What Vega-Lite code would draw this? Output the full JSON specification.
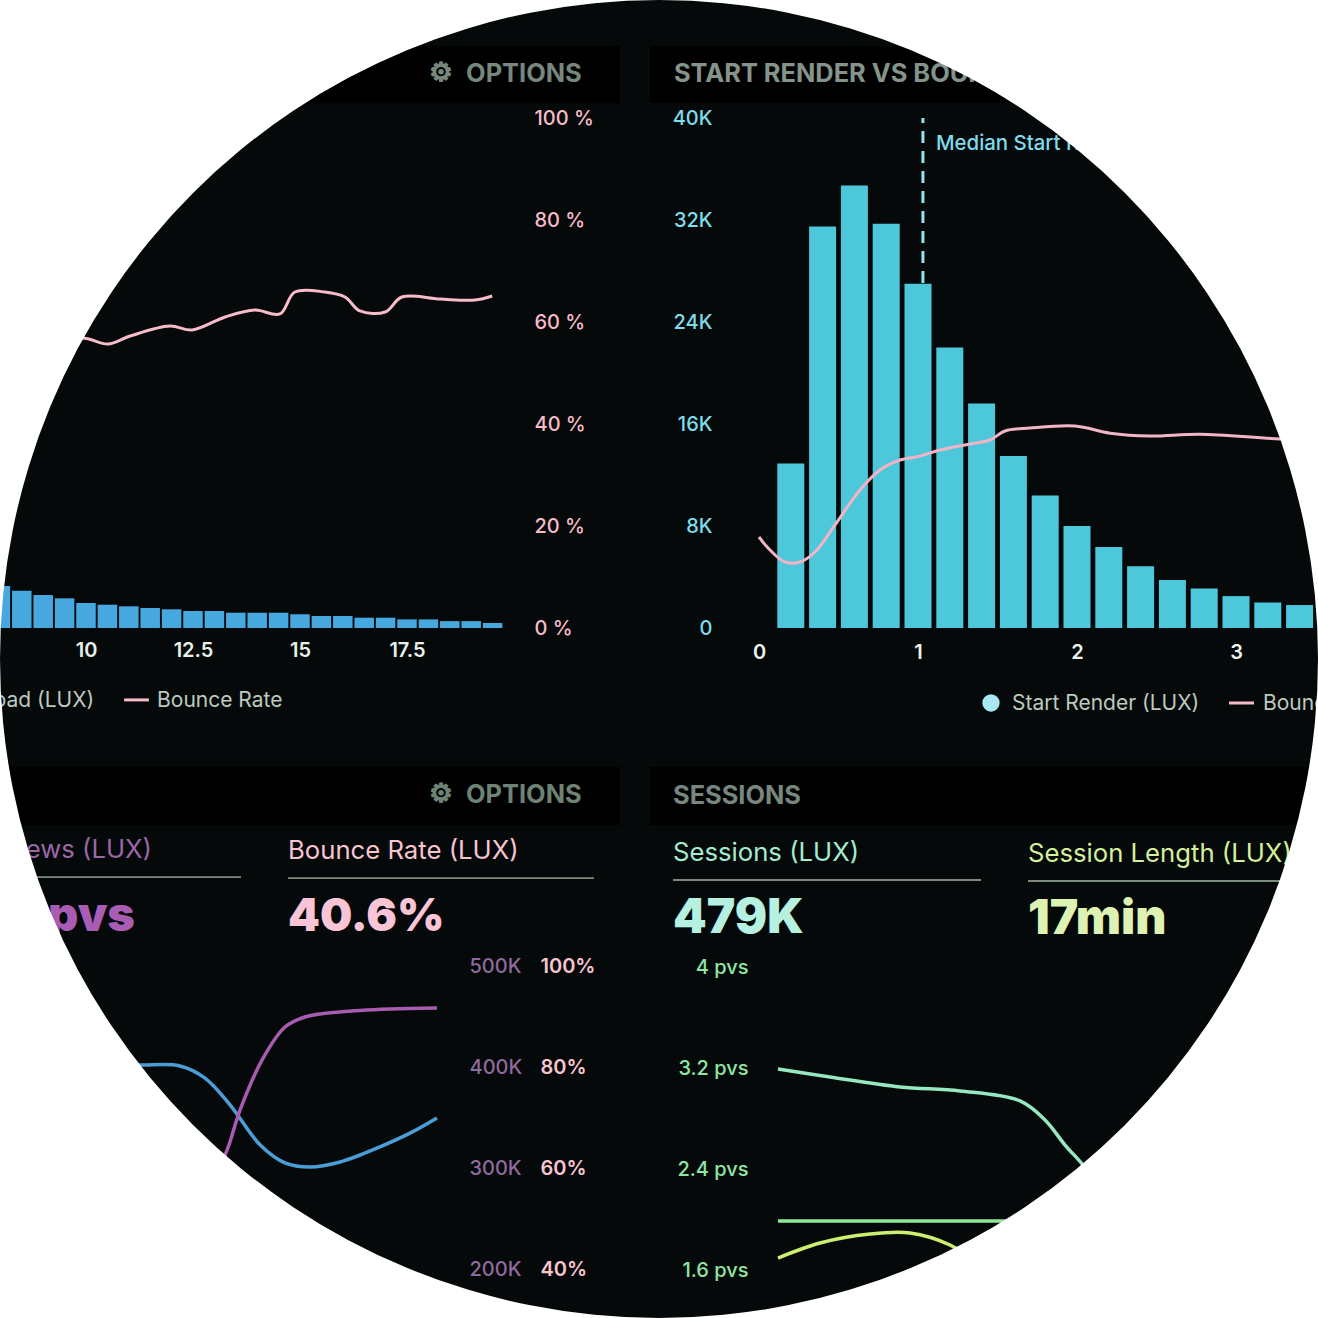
{"$schema":"https://vega.github.io/schema/vega-lite/v6.json","width":1318,"height":1318,"padding":0,"autosize":"none","background":"white","view":{"fill":"#05090a","stroke":null},
"config":{"axis":{"grid":false,"domain":false,"ticks":false,"tickSize":0,"labelPadding":0,"labelFont":"Inter","labelFontSize":20,"labelFontWeight":500,"labelOverlap":false,"labelBound":false,"labelFlush":false},"text":{"font":"Inter","align":"left","baseline":"middle"}},
"resolve":{"scale":{"x":"independent","y":"independent"},"axis":{"x":"independent","y":"independent"}},
"datasets":{
"tl":[
{"kind":"header","x":7.99,"x2":22.48,"y":114.1,"y2":102.9},
{"kind":"gear","x":18.29,"y":108.8,"label":"⚙"},
{"kind":"head","x":18.88,"y":108.8,"label":"OPTIONS"},
{"kind":"legendR","x":10.19,"y":-14.1,"label":"Page Load (LUX)"},
{"kind":"dash","x":10.89,"x2":11.47,"y":-14.1},
{"kind":"legend","x":11.66,"y":-14.1,"label":"Bounce Rate"},
{"kind":"bar","x":8,"y":8.24},{"kind":"bar","x":8.5,"y":7.31},{"kind":"bar","x":9,"y":6.47},{"kind":"bar","x":9.5,"y":5.82},{"kind":"bar","x":10,"y":4.9},{"kind":"bar","x":10.5,"y":4.57},{"kind":"bar","x":11,"y":4.25},{"kind":"bar","x":11.5,"y":3.92},{"kind":"bar","x":12,"y":3.67},{"kind":"bar","x":12.5,"y":3.33},{"kind":"bar","x":13,"y":3.33},{"kind":"bar","x":13.5,"y":3.0},{"kind":"bar","x":14,"y":3.0},{"kind":"bar","x":14.5,"y":3.0},{"kind":"bar","x":15,"y":2.69},{"kind":"bar","x":15.5,"y":2.35},{"kind":"bar","x":16,"y":2.35},{"kind":"bar","x":16.5,"y":2.02},{"kind":"bar","x":17,"y":2.02},{"kind":"bar","x":17.5,"y":1.69},{"kind":"bar","x":18,"y":1.69},{"kind":"bar","x":18.5,"y":1.35},{"kind":"bar","x":19,"y":1.35},{"kind":"bar","x":19.5,"y":0.98},
{"kind":"line","x":8.93,"y":52.5},{"kind":"line","x":9.86,"y":56.86},{"kind":"line","x":10.51,"y":55.69},{"kind":"line","x":11.03,"y":57.25},{"kind":"line","x":11.96,"y":59.2},{"kind":"line","x":12.48,"y":58.43},{"kind":"line","x":13.25,"y":60.98},{"kind":"line","x":13.95,"y":62.35},{"kind":"line","x":14.53,"y":61.57},{"kind":"line","x":14.88,"y":65.88},{"kind":"line","x":15.58,"y":65.88},{"kind":"line","x":16.05,"y":64.9},{"kind":"line","x":16.4,"y":62.16},{"kind":"line","x":16.99,"y":61.96},{"kind":"line","x":17.38,"y":64.9},{"kind":"line","x":18.27,"y":64.5},{"kind":"line","x":19.09,"y":64.3},{"kind":"line","x":19.49,"y":65.1}
],
"tr":[
{"kind":"header","x":-0.686,"x2":3.516,"y":45647,"y2":41176},
{"kind":"head","x":-0.535,"y":43529,"label":"START RENDER VS BOUNCE RATE"},
{"kind":"bar","x":0.2,"y":12900},{"kind":"bar","x":0.4,"y":31500},{"kind":"bar","x":0.6,"y":34700},{"kind":"bar","x":0.8,"y":31700},{"kind":"bar","x":1.0,"y":27000},{"kind":"bar","x":1.2,"y":22000},{"kind":"bar","x":1.4,"y":17600},{"kind":"bar","x":1.6,"y":13500},{"kind":"bar","x":1.8,"y":10400},{"kind":"bar","x":2.0,"y":8000},{"kind":"bar","x":2.2,"y":6350},{"kind":"bar","x":2.4,"y":4850},{"kind":"bar","x":2.6,"y":3760},{"kind":"bar","x":2.8,"y":3100},{"kind":"bar","x":3.0,"y":2500},{"kind":"bar","x":3.2,"y":2000},{"kind":"bar","x":3.4,"y":1800},
{"kind":"median","x":1.031,"y":27059,"y2":40000},
{"kind":"medianText","x":1.113,"y":38039,"label":"Median Start Render"},
{"kind":"dot","x":1.459,"y":-5882},
{"kind":"legend","x":1.591,"y":-5882,"label":"Start Render (LUX)"},
{"kind":"dash","x":2.956,"x2":3.113,"y":-5882},
{"kind":"legend","x":3.17,"y":-5882,"label":"Bounce Rate"}
],
"trb":[
{"x":0,"y":17.84},{"x":0.069,"y":15.3},{"x":0.164,"y":12.94},{"x":0.258,"y":12.94},{"x":0.352,"y":14.9},{"x":0.478,"y":20.2},{"x":0.635,"y":27.06},{"x":0.761,"y":30.98},{"x":0.887,"y":32.94},{"x":1.013,"y":33.7},{"x":1.138,"y":34.9},{"x":1.327,"y":36.08},{"x":1.453,"y":36.86},{"x":1.547,"y":38.63},{"x":1.704,"y":39.2},{"x":1.987,"y":39.6},{"x":2.208,"y":38.2},{"x":2.459,"y":37.65},{"x":2.774,"y":38.0},{"x":3.277,"y":37.06},{"x":3.465,"y":37.06}
],
"bl":[
{"kind":"header","x":0,"x2":62,"y":139.4,"y2":127.9},
{"kind":"gear","x":44.1,"y":134.06,"label":"⚙"},
{"kind":"head","x":46.6,"y":134.06,"label":"OPTIONS"},
{"kind":"viewsLabel","x":15.2,"y":123.4,"label":"Page Views (LUX)"},
{"kind":"under","x":0,"x2":24.1,"y":117.6},
{"kind":"viewsKpi","x":13.5,"y":110.3,"label":"1.9pvs"},
{"kind":"bounceLabel","x":28.8,"y":123.17,"label":"Bounce Rate (LUX)"},
{"kind":"under","x":28.8,"x2":59.4,"y":117.4},
{"kind":"bounceKpi","x":28.8,"y":110.3,"label":"40.6%"},
{"kind":"line","x":10,"y":80.5},{"kind":"line","x":14,"y":80.4},{"kind":"line","x":18,"y":80.2},{"kind":"line","x":20.5,"y":77.8},{"kind":"line","x":23,"y":72.5},{"kind":"line","x":26,"y":64.6},{"kind":"line","x":28.5,"y":61},{"kind":"line","x":31,"y":60.2},{"kind":"line","x":34,"y":61.2},{"kind":"line","x":38,"y":64.2},{"kind":"line","x":41,"y":66.9},{"kind":"line","x":43.7,"y":69.9}
],
"blv":[
{"x":20,"y":273.3},{"x":22.5,"y":312.9},{"x":24,"y":357.4},{"x":26.2,"y":406.9},{"x":28.5,"y":439.6},{"x":30.5,"y":449.5},{"x":34,"y":454.5},{"x":39,"y":457.4},{"x":43.7,"y":458.4}
],
"br":[
{"kind":"header","x":-12.8,"x2":54,"y":5.584,"y2":5.125},
{"kind":"head","x":-10.5,"y":5.362,"label":"SESSIONS"},
{"kind":"sessLabel","x":-10.5,"y":4.919,"label":"Sessions (LUX)"},
{"kind":"under","x":-10.5,"x2":20.3,"y":4.689},
{"kind":"sessKpi","x":-10.5,"y":4.404,"label":"479K"},
{"kind":"lenLabel","x":25,"y":4.911,"label":"Session Length (LUX)"},
{"kind":"under","x":25,"x2":54,"y":4.681},
{"kind":"lenKpi","x":25,"y":4.396,"label":"17min"},
{"kind":"mint","x":0,"y":3.192},{"kind":"mint","x":5.2,"y":3.129},{"kind":"mint","x":12.2,"y":3.05},{"kind":"mint","x":18.2,"y":3.018},{"kind":"mint","x":24.2,"y":2.939},{"kind":"mint","x":26.7,"y":2.788},{"kind":"mint","x":28.7,"y":2.59},{"kind":"mint","x":30.5,"y":2.432},{"kind":"mint","x":33.2,"y":2.154},
{"kind":"green","x":0,"y":1.988},{"kind":"green","x":13,"y":1.988},{"kind":"green","x":26.2,"y":1.988},
{"kind":"lime","x":0,"y":1.695},{"kind":"lime","x":4.2,"y":1.814},{"kind":"lime","x":9.2,"y":1.885},{"kind":"lime","x":13.2,"y":1.893},{"kind":"lime","x":17.2,"y":1.798},{"kind":"lime","x":20.2,"y":1.64}
]},
"layer":[
{"data":{"name":"tl"},
"encoding":{"x":{"field":"x","type":"quantitative","scale":{"domain":[8,20],"range":[0.4,514],"nice":false,"zero":false,"padding":0},"axis":{"title":null,"orient":"bottom","offset":-690,"labelPadding":12,"values":[10,12.5,15,17.5],"labelExpr":"'' + datum.value","labelColor":"#e8f0e8","labelFontWeight":600}},
"y":{"field":"y","type":"quantitative","scale":{"domain":[0,100],"range":[628,118],"nice":false},"axis":{"title":null,"orient":"right","offset":-784,"values":[0,20,40,60,80,100],"labelExpr":"datum.value + ' %'","labelColor":"#f7bcc8"}}},
"layer":[
{"transform":[{"filter":"datum.kind==='header'"}],"mark":{"type":"rect","color":"#000000"},"encoding":{"x2":{"field":"x2"},"y2":{"field":"y2"}}},
{"transform":[{"filter":"datum.kind==='gear'"}],"mark":{"type":"text","font":"DejaVu Sans","fontSize":26,"align":"center","color":"#77877d","stroke":"#77877d","strokeWidth":1.6},"encoding":{"text":{"field":"label"}}},
{"transform":[{"filter":"datum.kind==='head'"}],"mark":{"type":"text","fontSize":25.4,"fontWeight":700,"dy":1,"color":"#77877d"},"encoding":{"text":{"field":"label"}}},
{"transform":[{"filter":"datum.kind==='legendR'"}],"mark":{"type":"text","fontSize":21,"dy":1,"align":"right","color":"#bccabf"},"encoding":{"text":{"field":"label"}}},
{"transform":[{"filter":"datum.kind==='legend'"}],"mark":{"type":"text","fontSize":21,"dy":1,"color":"#bccabf"},"encoding":{"text":{"field":"label"}}},
{"transform":[{"filter":"datum.kind==='dash'"}],"mark":{"type":"rule","color":"#f7bcc8","strokeWidth":3},"encoding":{"x2":{"field":"x2"}}},
{"transform":[{"filter":"datum.kind==='bar'"}],"mark":{"type":"bar","orient":"vertical","size":19.5,"color":"#47a8e0"}},
{"transform":[{"filter":"datum.kind==='line'"}],"mark":{"type":"line","interpolate":"catmull-rom","color":"#f7bcc8","strokeWidth":3}}
]},
{"data":{"name":"tr"},
"encoding":{"x":{"field":"x","type":"quantitative","scale":{"domain":[0,3.5],"range":[759,1315.5],"nice":false,"zero":false,"padding":0},"axis":{"title":null,"orient":"bottom","offset":-690,"labelPadding":14,"values":[0,1,2,3],"format":"d","labelColor":"#eef4f0","labelFontWeight":600}},
"y":{"field":"y","type":"quantitative","scale":{"domain":[0,40000],"range":[628,118],"nice":false},"axis":{"title":null,"orient":"left","offset":-712,"values":[0,8000,16000,24000,32000,40000],"labelExpr":"datum.value === 0 ? '0' : (datum.value/1000) + 'K'","labelColor":"#7fdcec"}}},
"layer":[
{"transform":[{"filter":"datum.kind==='header'"}],"mark":{"type":"rect","color":"#000000"},"encoding":{"x2":{"field":"x2"},"y2":{"field":"y2"}}},
{"transform":[{"filter":"datum.kind==='head'"}],"mark":{"type":"text","fontSize":25.4,"fontWeight":700,"dy":1,"color":"#84948b"},"encoding":{"text":{"field":"label"}}},
{"transform":[{"filter":"datum.kind==='bar'"}],"mark":{"type":"bar","orient":"vertical","size":27,"color":"#4cc8da"}},
{"transform":[{"filter":"datum.kind==='median'"}],"mark":{"type":"rule","color":"#8fe6f2","strokeWidth":3,"strokeDash":[12,8]},"encoding":{"y2":{"field":"y2"}}},
{"transform":[{"filter":"datum.kind==='medianText'"}],"mark":{"type":"text","fontSize":20.4,"dy":1,"fontWeight":500,"color":"#7fdcec"},"encoding":{"text":{"field":"label"}}},
{"transform":[{"filter":"datum.kind==='dot'"}],"mark":{"type":"point","filled":true,"size":300,"opacity":1,"color":"#a8e8f2"}},
{"transform":[{"filter":"datum.kind==='legend'"}],"mark":{"type":"text","fontSize":21,"dy":1,"color":"#bccabf"},"encoding":{"text":{"field":"label"}}},
{"transform":[{"filter":"datum.kind==='dash'"}],"mark":{"type":"rule","color":"#f7bcc8","strokeWidth":3},"encoding":{"x2":{"field":"x2"}}}
]},
{"data":{"name":"trb"},"mark":{"type":"line","interpolate":"catmull-rom","color":"#f2b4c6","strokeWidth":3},
"encoding":{"x":{"field":"x","type":"quantitative","scale":{"domain":[0,3.5],"range":[759,1315.5],"nice":false,"zero":false},"axis":null},
"y":{"field":"y","type":"quantitative","scale":{"domain":[0,100],"range":[628,118],"nice":false},"axis":null}}},
{"data":{"name":"bl"},
"encoding":{"x":{"field":"x","type":"quantitative","scale":{"domain":[0,50],"range":[0,500],"nice":false,"zero":false},"axis":null},
"y":{"field":"y","type":"quantitative","scale":{"domain":[0,100],"range":[1471,966],"nice":false},"axis":{"title":null,"orient":"right","offset":-778,"values":[40,60,80,100],"labelExpr":"datum.value + '%'","labelColor":"#f9c4d0","labelFontWeight":600}}},
"layer":[
{"transform":[{"filter":"datum.kind==='header'"}],"mark":{"type":"rect","color":"#000000"},"encoding":{"x2":{"field":"x2"},"y2":{"field":"y2"}}},
{"transform":[{"filter":"datum.kind==='gear'"}],"mark":{"type":"text","font":"DejaVu Sans","fontSize":26,"align":"center","color":"#6d8373","stroke":"#6d8373","strokeWidth":1.6},"encoding":{"text":{"field":"label"}}},
{"transform":[{"filter":"datum.kind==='head'"}],"mark":{"type":"text","fontSize":25.4,"fontWeight":700,"dy":1,"color":"#6d8373"},"encoding":{"text":{"field":"label"}}},
{"transform":[{"filter":"datum.kind==='under'"}],"mark":{"type":"rule","color":"#7c8a7e","strokeWidth":1.8},"encoding":{"x2":{"field":"x2"}}},
{"transform":[{"filter":"datum.kind==='viewsLabel'"}],"mark":{"type":"text","fontSize":25.7,"dy":2,"align":"right","color":"#9a68a6"},"encoding":{"text":{"field":"label"}}},
{"transform":[{"filter":"datum.kind==='viewsKpi'"}],"mark":{"type":"text","fontSize":47,"fontWeight":900,"dy":3,"align":"right","color":"#a85cb4"},"encoding":{"text":{"field":"label"}}},
{"transform":[{"filter":"datum.kind==='bounceLabel'"}],"mark":{"type":"text","fontSize":25.7,"dy":2,"color":"#f9c4d0"},"encoding":{"text":{"field":"label"}}},
{"transform":[{"filter":"datum.kind==='bounceKpi'"}],"mark":{"type":"text","fontSize":45.5,"fontWeight":900,"dy":3,"color":"#f9c4d6"},"encoding":{"text":{"field":"label"}}},
{"transform":[{"filter":"datum.kind==='line'"}],"mark":{"type":"line","interpolate":"catmull-rom","color":"#4a9ed8","strokeWidth":3.5}}
]},
{"data":{"name":"blv"},"mark":{"type":"line","interpolate":"catmull-rom","color":"#a85cb0","strokeWidth":3.5},
"encoding":{"x":{"field":"x","type":"quantitative","scale":{"domain":[0,50],"range":[0,500],"nice":false,"zero":false},"axis":null},
"y":{"field":"y","type":"quantitative","scale":{"domain":[0,500],"range":[1471,966],"nice":false},"axis":{"title":null,"orient":"right","offset":-849,"values":[200,300,400,500],"labelExpr":"datum.value + 'K'","labelColor":"#8f6a9c"}}}},
{"data":{"name":"br"},
"encoding":{"x":{"field":"x","type":"quantitative","scale":{"domain":[0,50],"range":[778,1278],"nice":false,"zero":false},"axis":null},
"y":{"field":"y","type":"quantitative","scale":{"domain":[0,4],"range":[1472,967],"nice":false},"axis":{"title":null,"orient":"left","offset":-748,"values":[1.6,2.4,3.2,4],"labelExpr":"datum.value + ' pvs'","labelColor":"#8fe6a3"}}},
"layer":[
{"transform":[{"filter":"datum.kind==='header'"}],"mark":{"type":"rect","color":"#000000"},"encoding":{"x2":{"field":"x2"},"y2":{"field":"y2"}}},
{"transform":[{"filter":"datum.kind==='head'"}],"mark":{"type":"text","fontSize":25.4,"fontWeight":700,"dy":1,"color":"#77877d"},"encoding":{"text":{"field":"label"}}},
{"transform":[{"filter":"datum.kind==='under'"}],"mark":{"type":"rule","color":"#7c8a7e","strokeWidth":1.8},"encoding":{"x2":{"field":"x2"}}},
{"transform":[{"filter":"datum.kind==='sessLabel'"}],"mark":{"type":"text","fontSize":25.7,"dy":2,"color":"#a4ecd0"},"encoding":{"text":{"field":"label"}}},
{"transform":[{"filter":"datum.kind==='sessKpi'"}],"mark":{"type":"text","fontSize":48,"fontWeight":900,"dy":3,"color":"#b6f0e0"},"encoding":{"text":{"field":"label"}}},
{"transform":[{"filter":"datum.kind==='lenLabel'"}],"mark":{"type":"text","fontSize":25.7,"dy":2,"color":"#d4f09a"},"encoding":{"text":{"field":"label"}}},
{"transform":[{"filter":"datum.kind==='lenKpi'"}],"mark":{"type":"text","fontSize":48,"fontWeight":900,"dy":3,"color":"#def2b4"},"encoding":{"text":{"field":"label"}}},
{"transform":[{"filter":"datum.kind==='mint'"}],"mark":{"type":"line","interpolate":"catmull-rom","color":"#96e8c0","strokeWidth":3.5}},
{"transform":[{"filter":"datum.kind==='green'"}],"mark":{"type":"line","color":"#8ee89a","strokeWidth":3.5}},
{"transform":[{"filter":"datum.kind==='lime'"}],"mark":{"type":"line","interpolate":"catmull-rom","color":"#cdee70","strokeWidth":3.5}}
]},
{"data":{"values":[{"mask":"ring"}]},"mark":{"type":"arc","radius":945,"radius2":659,"theta":0,"theta2":6.2832,"color":"#ffffff"},"encoding":{}}
]}
